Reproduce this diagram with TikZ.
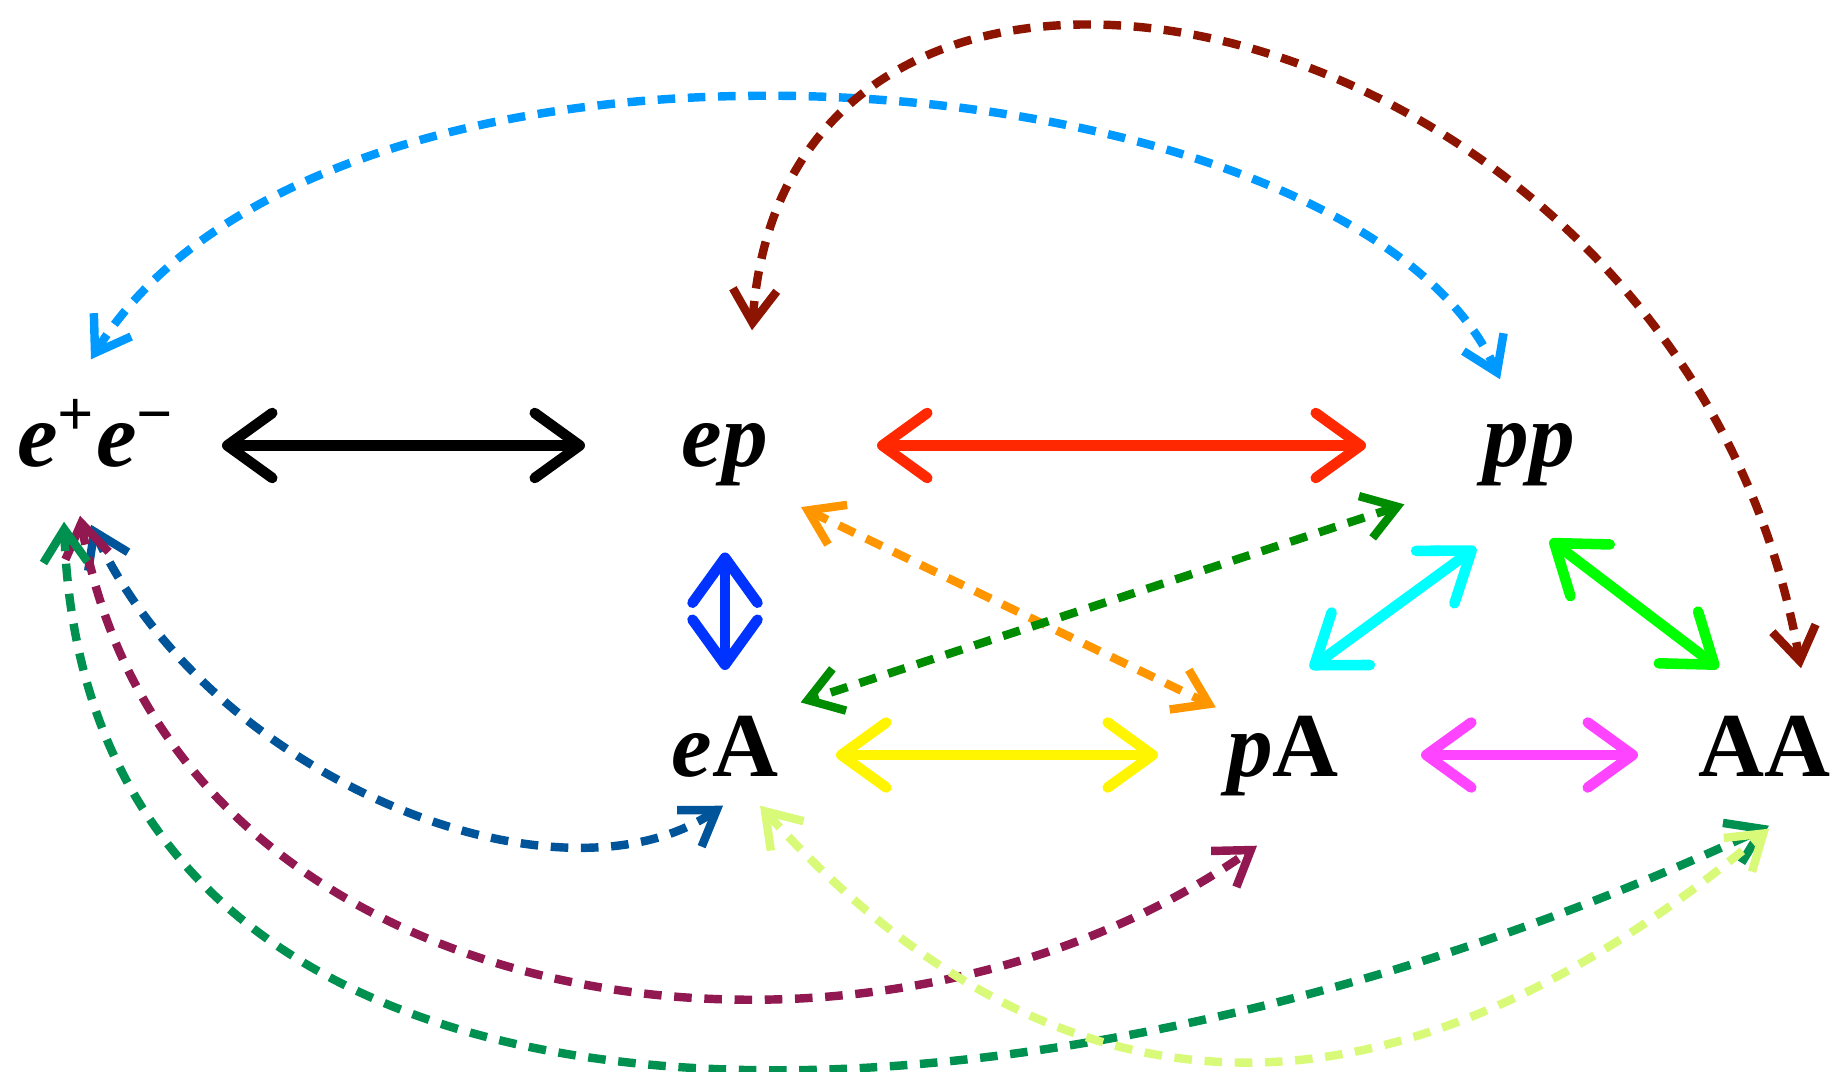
\documentclass[tikz,border=0pt]{standalone}
\usepackage{fontspec}
\setmainfont{Liberation Serif}
\usepackage{xcolor}
\usepackage{tikz}
\usetikzlibrary{arrows.meta, positioning}

\definecolor{cRed}{RGB}{255,40,0}
\definecolor{cBlue}{RGB}{0,51,255}
\definecolor{cYellow}{RGB}{255,245,0}
\definecolor{cPink}{RGB}{255,68,255}
\definecolor{cCyan}{RGB}{0,255,255}
\definecolor{cLime}{RGB}{0,255,0}
\definecolor{cSky}{RGB}{0,153,255}
\definecolor{cRust}{RGB}{140,20,0}
\definecolor{cOrange}{RGB}{255,150,0}
\definecolor{cLeaf}{RGB}{0,140,0}
\definecolor{cNavy}{RGB}{0,85,154}
\definecolor{cWine}{RGB}{145,24,80}
\definecolor{cTeal}{RGB}{0,145,80}
\definecolor{cPale}{RGB}{216,250,120}

\begin{document}
\begin{tikzpicture}[
        on grid,
        particle/.style={
            font=\fontsize{26}{28}\selectfont\bfseries,
            inner sep=0pt,
            text height=0.65cm,
            text depth=0.22cm
        },
        link/.style={
            line width=3pt,
            line cap=round,
            >={Straight Barb[length=4.5mm, width=6.5mm, round]},
            <->
        },
        dlink/.style={
            line width=2.4pt,
            dash pattern=on 5pt off 3.6pt,
            >={Straight Barb[length=3.3mm, width=4.4mm]},
            <->
        }
    ]
    \useasboundingbox (0,0) rectangle (18.34,-10.72);

    % Nodes
    \node[particle] (ee) at (0.96,-4.455) {\textit{e}\textsuperscript{+}\textit{e}\textsuperscript{−}};
    \node[particle, right=6.29cm of ee] (ep) {\textit{ep}};
    \node[particle, right=8.04cm of ep] (pp) {\textit{pp}};
    \node[particle, below=3.095cm of ep] (eA) {\textit{e}A};
    \node[particle, right=5.58cm of eA] (pA) {\textit{p}A};
    \node[particle, right=4.81cm of pA] (AA) {AA};

    % Dashed arrows
    \draw[dlink, cSky] ([shift={(-0.05,0.42)}]ee.north) to[out=58, in=114, out distance=4.6cm, in distance=3.6cm] ([shift={(-0.29,0.22)}]pp.north);
    \draw[dlink, cRust] ([shift={(0.27,0.71)}]ep.north) to[out=86, in=100, out distance=5.3cm, in distance=6.8cm] ([shift={(0.37,0.425)}]AA.north);
    \draw[dlink, cOrange, shorten <=4mm, shorten >=0.8mm] ([xshift=4mm]ep.south) -- ([xshift=-6mm]pA.north);
    \draw[dlink, cLeaf, shorten <=4.7mm, shorten >=2.7mm] ([xshift=-8mm]pp.south) -- ([xshift=5mm]eA.north);
    \draw[dlink, cNavy] ([shift={(-0.05,-0.35)}]ee.south) to[out=-65, in=214, out distance=2.8cm, in distance=2cm] ([shift={(-0.02,-0.065)}]eA.south);
    \draw[dlink, cWine] ([shift={(-0.16,-0.26)}]ee.south) to[out=-80, in=215, out distance=5.2cm, in distance=4.8cm] ([shift={(-0.26,-0.465)}]pA.south);
    \draw[dlink, cTeal] ([shift={(-0.32,-0.32)}]ee.south) to[out=-88, in=205, out distance=7cm, in distance=8cm] ([shift={(0.05,-0.265)}]AA.south);
    \draw[dlink, cPale] ([shift={(0.35,-0.065)}]eA.south) to[out=-48, in=220, out distance=4.4cm, in distance=5cm] ([shift={(0.05,-0.295)}]AA.south);

    % Solid arrows
    \draw[link, black, shorten <=12.6mm, shorten >=14mm] (ee.center) -- (ep.center);
    \draw[link, cRed, shorten <=15.2mm, shorten >=16.3mm] (ep.center) -- (pp.center);
    \draw[link, cBlue, shorten <=10.7mm, shorten >=8.5mm] (ep.center) -- (eA.center);
    \draw[link, cYellow, shorten <=11.1mm, shorten >=12.5mm] (eA.center) -- (pA.center);
    \draw[link, cPink, shorten <=13.8mm, shorten >=12.6mm] (pA.center) -- (AA.center);
    \draw[link, cCyan, shorten <=7.2mm, shorten >=9.8mm] ([xshift=-3.1mm]pA.north) -- ([xshift=2.6mm]pp.south);
    \draw[link, cLime, shorten <=8.3mm, shorten >=7.1mm] ([xshift=-4.5mm]pp.south) -- ([xshift=1.1mm]AA.north);
\end{tikzpicture}
\end{document}
